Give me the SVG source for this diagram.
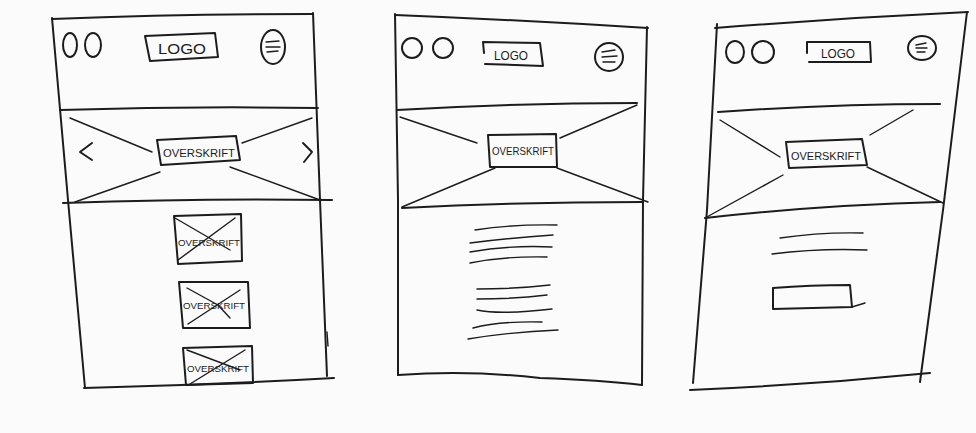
<svg xmlns="http://www.w3.org/2000/svg" width="976" height="433" viewBox="0 0 976 433">
<style>
.p{fill:none;stroke:#1c1c1c;stroke-width:2;stroke-linecap:round;stroke-linejoin:round}
.f{fill:none;stroke:#1c1c1c;stroke-width:1.4;stroke-linecap:round;stroke-linejoin:round}
.lbl{font-family:"Liberation Sans",Arial,sans-serif;fill:#1c1c1c;text-anchor:middle}
</style>
<rect width="976" height="433" fill="#fbfbfb"/>

<g id="phone1">
  <g id="p1-frame">
    <path class="p" d="M52,19 Q180,14 313,14"/>
    <path class="p" d="M313,13 L320,200 L327,376"/>
    <path class="p" d="M52,18 L68,200 L85,388"/>
    <path class="p" d="M84,388 Q210,385 334,378"/>
    <path class="f" d="M327,332 L328,346"/>
  </g>
  <g id="p1-header">
    <ellipse class="p" cx="70" cy="45" rx="7" ry="12"/>
    <ellipse class="p" cx="93" cy="45" rx="8" ry="12"/>
    <path class="p" d="M145,36 L215,33 L218,57 L150,61 Z"/>
    <text class="lbl" x="182" y="54" font-size="15" textLength="48" lengthAdjust="spacingAndGlyphs">LOGO</text>
    <ellipse class="p" cx="273" cy="47" rx="12" ry="17"/>
    <path class="f" d="M266,42 L279,41 M266,47 L280,47 M267,52 L278,51"/>
    <path class="p" d="M60,110 Q190,106 318,108"/>
  </g>
  <g id="p1-hero">
    <path class="f" d="M70,118 L152,152 M312,118 L242,143 M160,172 L75,202 M230,167 L320,200"/>
    <path class="p" d="M157,140 L236,136 L240,160 L161,165 Z"/>
    <text class="lbl" x="199" y="157" font-size="11" textLength="72" lengthAdjust="spacingAndGlyphs">OVERSKRIFT</text>
    <path class="p" d="M92,143 L80,152 L92,160"/>
    <path class="p" d="M303,143 L312,152 L304,162"/>
    <path class="p" d="M63,203 Q200,198 332,200"/>
  </g>
  <g id="p1-thumb1">
    <path class="p" d="M174,216 L241,214 L242,261 L178,264 Z"/>
    <path class="f" d="M175,218 L230,250 M235,218 L178,260"/>
    <text class="lbl" x="209" y="246" font-size="9" textLength="62" lengthAdjust="spacingAndGlyphs">OVERSKRIFT</text>
  </g>
  <g id="p1-thumb2">
    <path class="p" d="M179,282 L248,282 L250,328 L183,328 Z"/>
    <path class="f" d="M187,288 L218,305 L230,318 M240,290 L188,324"/>
    <text class="lbl" x="214" y="309" font-size="9" textLength="62" lengthAdjust="spacingAndGlyphs">OVERSKRIFT</text>
  </g>
  <g id="p1-thumb3">
    <path class="p" d="M183,348 L252,346 L253,383 L186,385 Z"/>
    <path class="f" d="M187,350 L240,370 M245,350 L190,384"/>
    <text class="lbl" x="218" y="372" font-size="9" textLength="62" lengthAdjust="spacingAndGlyphs">OVERSKRIFT</text>
  </g>
</g>

<g id="phone2">
  <g id="p2-frame">
    <path class="p" d="M395,15 Q520,20 648,28"/>
    <path class="p" d="M395,14 L398,200 L398,375"/>
    <path class="p" d="M647,27 L643,200 L642,385"/>
    <path class="p" d="M398,375 Q470,370 540,378 Q600,380 642,385"/>
  </g>
  <g id="p2-header">
    <circle class="p" cx="412" cy="48" r="10"/>
    <circle class="p" cx="443" cy="48" r="10"/>
    <path class="p" d="M484,53 L483,42 L540,43 L543,66 L485,64"/>
    <text class="lbl" x="511" y="60" font-size="12" textLength="34" lengthAdjust="spacingAndGlyphs">LOGO</text>
    <circle class="p" cx="609" cy="57" r="14"/>
    <path class="f" d="M602,52 L615,50 M602,57 L617,56 M603,62 L615,62"/>
    <path class="p" d="M397,110 Q520,103 637,103"/>
  </g>
  <g id="p2-hero">
    <path class="f" d="M400,117 L477,143 M637,105 L560,138 M495,168 L402,207 M557,168 L648,202"/>
    <path class="p" d="M488,135 L556,134 L557,167 L490,167 Z"/>
    <text class="lbl" x="523" y="155" font-size="11" textLength="62" lengthAdjust="spacingAndGlyphs">OVERSKRIFT</text>
    <path class="p" d="M402,208 Q520,202 643,202"/>
  </g>
  <g id="p2-text">
    <path class="f" d="M475,230 Q515,224 557,225"/>
    <path class="f" d="M470,243 Q510,238 553,235"/>
    <path class="f" d="M470,252 Q510,245 552,247"/>
    <path class="f" d="M470,263 Q505,256 547,257"/>
    <path class="f" d="M477,289 Q515,289 550,285"/>
    <path class="f" d="M477,299 Q515,299 547,295"/>
    <path class="f" d="M477,310 Q500,315 552,309"/>
    <path class="f" d="M473,328 Q500,321 542,322"/>
    <path class="f" d="M468,339 Q510,332 558,330"/>
  </g>
</g>

<g id="phone3">
  <g id="p3-frame">
    <path class="p" d="M715,28 Q840,18 968,12"/>
    <path class="p" d="M717,24 L707,210 L693,383"/>
    <path class="p" d="M967,12 L943,210 L920,382"/>
    <path class="p" d="M690,390 Q810,385 930,373"/>
  </g>
  <g id="p3-header">
    <ellipse class="p" cx="735" cy="52" rx="9" ry="11"/>
    <ellipse class="p" cx="763" cy="52" rx="11" ry="11"/>
    <path class="p" d="M807,53 L807,42 L870,42 L871,62 L809,62"/>
    <text class="lbl" x="838" y="58" font-size="12" textLength="34" lengthAdjust="spacingAndGlyphs">LOGO</text>
    <ellipse class="p" cx="922" cy="48" rx="14" ry="12"/>
    <path class="f" d="M916,45 L926,43 M916,48 L927,48 M917,52 L925,52"/>
    <path class="p" d="M718,112 Q830,104 940,104"/>
  </g>
  <g id="p3-hero">
    <path class="f" d="M720,120 L780,157 M913,110 L870,135 M783,175 L705,218 M867,167 L943,203"/>
    <path class="p" d="M786,142 L862,139 L867,165 L789,168 Z"/>
    <text class="lbl" x="826" y="160" font-size="11" textLength="70" lengthAdjust="spacingAndGlyphs">OVERSKRIFT</text>
    <path class="p" d="M705,218 Q820,205 940,202"/>
  </g>
  <g id="p3-text">
    <path class="f" d="M780,238 Q820,232 863,233"/>
    <path class="f" d="M772,254 Q820,248 867,250"/>
  </g>
  <g id="p3-button">
    <path class="p" d="M773,288 L773,309 L852,307 L850,285 Q810,285 773,288"/>
    <path class="f" d="M852,307 L865,303"/>
  </g>
</g>
</svg>
